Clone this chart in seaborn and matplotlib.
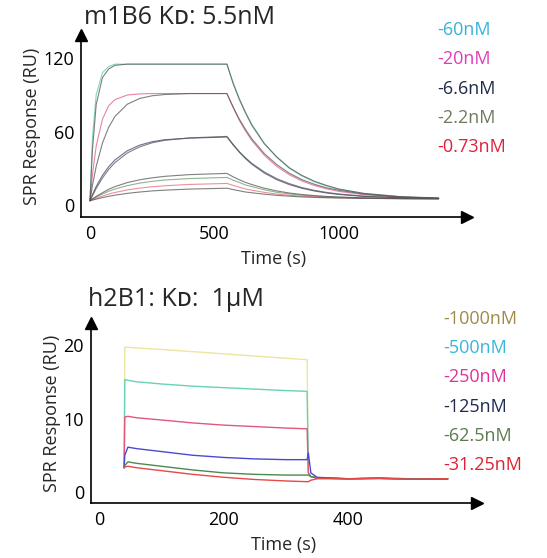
import numpy as np
import pandas as pd
import seaborn as sns
import matplotlib.pyplot as plt

# ---- top panel: m1B6 (time in s, response in RU) ----
t_top = [0, 10, 25, 50, 75, 100, 150, 200, 250, 300, 400, 550, 575, 600, 625, 650, 700, 750, 800, 850, 900, 950, 1000, 1100, 1250, 1400]
top_labels = ['-60nM', '-20nM', '-6.6nM', '-2.2nM', '-0.73nM']
top_data = [
    [3.5, 55, 90, 108, 113, 115, 115, 115, 115, 115, 115, 115, 100, 87, 75.7, 66, 50.5, 38.9, 30, 23.8, 19, 15.5, 12.8, 9.3, 6.6, 5.6],
    [3.5, 25, 48, 70, 81, 86, 89.8, 90.7, 91, 91, 91, 91, 79.5, 69, 60.3, 52.7, 40.6, 31.5, 24.8, 19.7, 16, 13.2, 11.1, 8.4, 6.3, 5.5],
    [3.5, 8.5, 15.1, 24.1, 31.2, 36.7, 44.3, 48.9, 51.7, 53.3, 54.6, 55.5, 49, 43, 37.8, 33.3, 26.1, 20.7, 16.7, 13.7, 11.5, 9.8, 8.6, 7, 5.8, 5.3],
    [3.5, 4.7, 6.5, 9, 11.2, 13, 15.8, 17.9, 19.3, 20.4, 21.6, 22.5, 20.3, 18.4, 16.3, 15, 12.4, 10.4, 9.1, 8, 7.3, 6.7, 6.3, 5.7, 5.3, 5.1],
    [3.5, 4.2, 5.5, 7.3, 8.9, 10.2, 12.3, 13.8, 14.9, 15.7, 16.8, 17.6, 16, 14.5, 13.1, 12.1, 10.3, 8.9, 8, 7.2, 6.7, 6.3, 6, 5.5, 5.2, 5.1],
]
top_fit = [
    [3.5, 45, 82, 104, 111, 114, 115, 115, 115, 115, 115, 115, 99, 86, 75, 65, 50, 39.3, 30.5, 24.3, 19.5, 16, 13, 9.5, 6.8, 5.7],
    [3.5, 16, 31.5, 50.5, 63.4, 72.2, 82.3, 87, 89.2, 90.2, 91, 91, 80, 70, 61.5, 54, 42, 33, 26, 20.8, 17, 14, 12, 8.9, 6.5, 5.6],
    [3.5, 7.5, 13.5, 22, 29, 34.5, 42.5, 47.5, 50.8, 52.8, 54.8, 56, 49.5, 43.5, 38.5, 34, 27, 21.5, 17.5, 14.3, 12, 10.3, 9, 7.2, 5.9, 5.3],
    [3.5, 5, 7, 10, 12.8, 15, 18.3, 20.6, 22.2, 23.4, 24.8, 25.8, 23, 20.6, 18.4, 16.7, 13.7, 11.5, 9.8, 8.6, 7.7, 7, 6.5, 5.8, 5.3, 5.1],
    [3.5, 4, 4.8, 6, 7.1, 8, 9.5, 10.6, 11.5, 12.1, 13, 13.7, 12.6, 11.6, 10.6, 10, 8.8, 7.9, 7.2, 6.6, 6.2, 5.9, 5.7, 5.4, 5.1, 5.0],
]
top_text_colors = ['#38b2d6', '#e03cb8', '#1e2a48', '#6c7b5e', '#e0203c']
top_line_colors = ['#5cc8b0', '#e05a8a', '#3a4070', '#6a9a6a', '#e86a7a']

# ---- bottom panel: h2B1 ----
t_bot = [40, 41, 46, 60, 100, 150, 200, 250, 300, 334, 336, 340, 350, 400, 450, 500, 560]
bot_labels = ['-1000nM', '-500nM', '-250nM', '-125nM', '-62.5nM', '-31.25nM']
bot_data = [
    [3.3, 19.7, 19.7, 19.6, 19.4, 19.1, 18.8, 18.5, 18.2, 18.0, 2.6, 2.1, 1.9, 1.8, 1.85, 1.75, 1.8],
    [3.3, 15.3, 15.2, 15.0, 14.7, 14.4, 14.2, 14.0, 13.8, 13.7, 2.6, 2.1, 1.9, 1.8, 1.85, 1.75, 1.8],
    [3.3, 10.2, 10.3, 10.1, 9.8, 9.4, 9.1, 8.9, 8.7, 8.6, 2.6, 2.1, 1.9, 1.8, 1.85, 1.75, 1.8],
    [3.3, 5.0, 6.1, 5.9, 5.5, 5.0, 4.7, 4.5, 4.4, 4.4, 5.3, 2.6, 2.0, 1.8, 1.9, 1.8, 1.75],
    [3.3, 3.6, 4.1, 3.9, 3.5, 3.0, 2.6, 2.4, 2.3, 2.3, 2.3, 2.1, 1.9, 1.8, 1.85, 1.75, 1.8],
    [3.3, 3.4, 3.5, 3.3, 2.9, 2.4, 2.0, 1.7, 1.5, 1.4, 1.4, 1.6, 1.8, 1.8, 1.85, 1.75, 1.8],
]
bot_text_colors = ['#a08a48', '#38b6d8', '#e0309c', '#1f2a50', '#5c7a50', '#e02030']
bot_line_colors = ['#ece6a0', '#66d2b8', '#e0587c', '#4a4ad0', '#4a8a50', '#e84848']

sns.set_style("white")
plt.rcParams['font.family'] = ['Open Sans', 'DejaVu Sans']

fig = plt.figure(figsize=(5.47, 5.58), dpi=100)
ax1 = fig.add_axes([81 / 547, 1 - 217 / 558, 386 / 547, 182 / 558])
ax2 = fig.add_axes([91 / 547, 1 - 503 / 558, 386 / 547, 180 / 558])

for vals, c in zip(top_data, top_line_colors):
    sns.lineplot(x=t_top, y=vals, ax=ax1, color=c, lw=0.8, alpha=0.75)
for vals in top_fit:
    sns.lineplot(x=t_top, y=vals, ax=ax1, color='#555555', lw=0.8, alpha=0.75)

for vals, c in zip(bot_data, bot_line_colors):
    sns.lineplot(x=t_bot, y=vals, ax=ax2, color=c, lw=1.0)

ax1.set_xlim(-36, 1514)
ax1.set_ylim(-9.8, 138.8)
ax1.set_xticks([0, 500, 1000])
ax1.set_yticks([0, 60, 120])
ax2.set_xlim(-13.3, 607)
ax2.set_ylim(-1.5, 23)
ax2.set_xticks([0, 200, 400])
ax2.set_yticks([0, 10, 20])

for ax in (ax1, ax2):
    sns.despine(ax=ax)
    for s in ('left', 'bottom'):
        ax.spines[s].set_color('black')
        ax.spines[s].set_linewidth(1.2)
    ax.tick_params(axis='y', direction='out', length=4, width=1, labelsize=13, pad=1, colors='black')
    ax.tick_params(axis='x', direction='inout', length=7, width=1, labelsize=13, pad=2, colors='black')
    ax.plot(1, 0, '>', color='black', ms=9, transform=ax.transAxes, clip_on=False)
    ax.plot(0, 1, '^', color='black', ms=9, transform=ax.transAxes, clip_on=False)
    ax.set_xlabel('Time (s)', fontsize=13, labelpad=5)
    ax.set_ylabel('SPR Response (RU)', fontsize=13, labelpad=2)

fig.text(84 / 547, 1 - 18 / 558, 'm1B6 K\u1d05: 5.5nM', fontsize=18, ha='left', va='center')
fig.text(88 / 547, 1 - 300 / 558, 'h2B1: K\u1d05:  1\u03bcM', fontsize=18, ha='left', va='center')

for i, (lab, c) in enumerate(zip(top_labels, top_text_colors)):
    fig.text(437 / 547, 1 - (30 + 29.3 * i) / 558, lab, color=c, fontsize=13, ha='left', va='center')
for i, (lab, c) in enumerate(zip(bot_labels, bot_text_colors)):
    fig.text(443 / 547, 1 - (319 + 29.2 * i) / 558, lab, color=c, fontsize=13, ha='left', va='center')

fig.savefig('out.png', dpi=100)
